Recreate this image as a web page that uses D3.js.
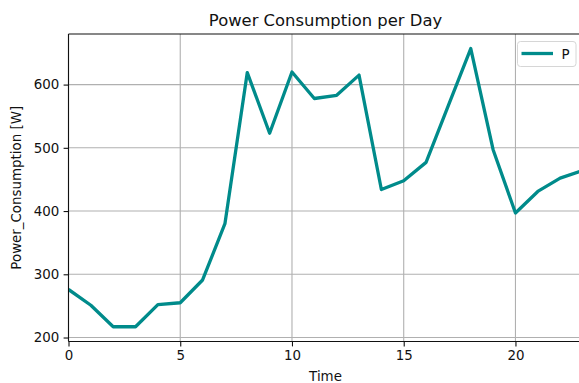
<!DOCTYPE html>
<html>
<head>
<meta charset="utf-8">
<script src="https://cdn.jsdelivr.net/npm/d3@7"></script>
<style>
  html, body { margin: 0; padding: 0; background: #fff; }
  svg { display: block; font-family: "DejaVu Sans", sans-serif; }
</style>
</head>
<body>
<svg id="chart" width="579" height="383"></svg>
<script>
// Hourly power consumption (W)
const hours = [0, 1, 2, 3, 4, 5, 6, 7, 8, 9, 10, 11, 12, 13, 14, 15, 16, 17, 18, 19, 20, 21, 22, 23];
const power = [276, 251, 217, 217, 252, 255, 291, 380, 619, 523, 620, 578, 583, 615, 434, 448, 477, 567, 657, 497, 397, 431, 452, 464];
const xTicks = [0, 5, 10, 15, 20];
const yTicks = [200, 300, 400, 500, 600];
const seriesName = "P";

const svg = d3.select("#chart");
const margin = { left: 68.5, top: 34, right: 582.5, bottom: 341.5 };
const ink = "#111";
const tickFont = 13.4;

const x = d3.scaleLinear().domain([0, 23]).range([margin.left, margin.right]);
const y = d3.scaleLinear().domain([193.7, 680]).range([margin.bottom, margin.top]);

const plot = svg.append("g");

// clip to the axes area
svg.append("defs").append("clipPath").attr("id", "clip")
  .append("rect")
  .attr("x", margin.left).attr("y", margin.top)
  .attr("width", margin.right - margin.left).attr("height", margin.bottom - margin.top);

// grid
plot.append("g").selectAll("line").data(xTicks).join("line")
  .attr("x1", d => x(d)).attr("x2", d => x(d))
  .attr("y1", margin.top).attr("y2", margin.bottom)
  .attr("stroke", "#b0b0b0").attr("stroke-width", 1.1);
plot.append("g").selectAll("line").data(yTicks).join("line")
  .attr("x1", margin.left).attr("x2", margin.right)
  .attr("y1", d => y(d)).attr("y2", d => y(d))
  .attr("stroke", "#b0b0b0").attr("stroke-width", 1.1);

// data line
const line = d3.line().x((d, i) => x(hours[i])).y(d => y(d));
plot.append("path")
  .datum(power)
  .attr("clip-path", "url(#clip)")
  .attr("d", line)
  .attr("fill", "none")
  .attr("stroke", "#008b8b")
  .attr("stroke-width", 3.3)
  .attr("stroke-linejoin", "round");

// axes
const xAxis = d3.axisBottom(x).tickValues(xTicks).tickSize(4.9).tickPadding(4.4).tickFormat(d3.format("d"));
const yAxis = d3.axisLeft(y).tickValues(yTicks).tickSize(4.9).tickPadding(4.4).tickFormat(d3.format("d"));

const gx = svg.append("g").attr("transform", `translate(0,${margin.bottom})`).call(xAxis);
const gy = svg.append("g").attr("transform", `translate(${margin.left},0)`).call(yAxis);
[gx, gy].forEach(g => {
  g.selectAll("text").attr("font-size", tickFont).attr("fill", ink).attr("font-family", "DejaVu Sans");
  g.selectAll("line").attr("stroke", ink).attr("stroke-width", 1.1);
  g.select(".domain").remove();
});

// spines
const spines = [
  [margin.left, margin.top, margin.left, margin.bottom],
  [margin.left, margin.bottom, margin.right, margin.bottom],
  [margin.left, margin.top, margin.right, margin.top],
  [margin.right, margin.top, margin.right, margin.bottom]
];
svg.append("g").selectAll("line").data(spines).join("line")
  .attr("x1", d => d[0]).attr("y1", d => d[1]).attr("x2", d => d[2]).attr("y2", d => d[3])
  .attr("stroke", ink).attr("stroke-width", 1.1);

// titles
svg.append("text").attr("x", (margin.left + margin.right) / 2).attr("y", 25.7)
  .attr("text-anchor", "middle").attr("font-size", 16.4).attr("fill", ink)
  .text("Power Consumption per Day");
svg.append("text").attr("x", (margin.left + margin.right) / 2).attr("y", 381)
  .attr("text-anchor", "middle").attr("font-size", tickFont).attr("fill", ink)
  .text("Time");
svg.append("text")
  .attr("transform", `translate(20.5,${(margin.top + margin.bottom) / 2}) rotate(-90)`)
  .attr("text-anchor", "middle").attr("font-size", tickFont).attr("fill", ink)
  .text("Power_Consumption [W]");

// legend
const lg = svg.append("g").attr("transform", "translate(517.5,41.5)");
lg.append("rect").attr("width", 58.5).attr("height", 25).attr("rx", 3)
  .attr("fill", "#fff").attr("fill-opacity", 0.8).attr("stroke", "#d6d6d6");
lg.append("line").attr("x1", 4).attr("x2", 35.5).attr("y1", 12).attr("y2", 12)
  .attr("stroke", "#008b8b").attr("stroke-width", 3.3);
lg.append("text").attr("x", 44).attr("y", 17).attr("font-size", tickFont).attr("fill", ink)
  .text(seriesName);
</script>
</body>
</html>
